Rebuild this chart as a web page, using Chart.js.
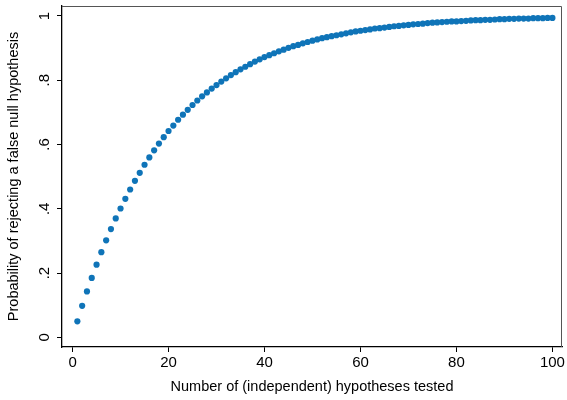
<!DOCTYPE html>
<html>
<head>
<meta charset="utf-8">
<script src="https://cdn.jsdelivr.net/npm/chart.js@4"></script>
<style>
  html, body { margin: 0; padding: 0; background: #fff; }
  #wrap { width: 567px; height: 400px; }
</style>
</head>
<body>
<div id="wrap"><canvas id="chart" width="567" height="400"></canvas></div>
<script>
// number of hypotheses tested
var nTests = [];
for (var i = 1; i <= 100; i++) nTests.push(i);

// probability of rejecting a false null
var probReject = [
  0.050, 0.098, 0.143, 0.185, 0.226, 0.265, 0.302, 0.337, 0.370, 0.401,
  0.431, 0.460, 0.487, 0.512, 0.537, 0.560, 0.582, 0.603, 0.623, 0.642,
  0.659, 0.677, 0.693, 0.708, 0.723, 0.737, 0.750, 0.762, 0.774, 0.785,
  0.796, 0.806, 0.816, 0.825, 0.834, 0.842, 0.850, 0.858, 0.865, 0.872,
  0.878, 0.884, 0.890, 0.895, 0.901, 0.906, 0.910, 0.915, 0.919, 0.923,
  0.927, 0.931, 0.934, 0.937, 0.940, 0.943, 0.946, 0.949, 0.952, 0.954,
  0.956, 0.958, 0.961, 0.962, 0.964, 0.966, 0.968, 0.969, 0.971, 0.972,
  0.974, 0.975, 0.976, 0.978, 0.979, 0.980, 0.981, 0.982, 0.983, 0.983,
  0.984, 0.985, 0.986, 0.987, 0.987, 0.988, 0.988, 0.989, 0.990, 0.990,
  0.991, 0.991, 0.992, 0.992, 0.992, 0.993, 0.993, 0.993, 0.994, 0.994
];

var xTicks = [0, 20, 40, 60, 80, 100];
var yTicks = [0, 0.2, 0.4, 0.6, 0.8, 1];
var yTickLabels = ['0', '.2', '.4', '.6', '.8', '1'];

var points = [];
for (var i = 0; i < nTests.length; i++) {
  points.push({ x: nTests[i], y: probReject[i] });
}

var FONT = "'Liberation Sans', Arial, sans-serif";

// 위/오른쪽 테두리 + 세로로 돌린 y축 눈금 글자
var framePlugin = {
  id: 'frame',
  afterDraw: function(chart) {
    var ctx = chart.ctx;
    var a = chart.chartArea;
    ctx.save();
    ctx.strokeStyle = '#555';
    ctx.lineWidth = 1;
    ctx.beginPath();
    ctx.moveTo(a.left, a.top + 0.5);
    ctx.lineTo(a.right - 0.5, a.top + 0.5);
    ctx.lineTo(a.right - 0.5, a.bottom);
    ctx.stroke();

    var ys = chart.scales.y;
    ctx.fillStyle = '#000';
    ctx.font = '15px ' + FONT;
    ctx.textAlign = 'center';
    ctx.textBaseline = 'middle';
    for (var i = 0; i < yTicks.length; i++) {
      var py = ys.getPixelForValue(yTicks[i]);
      ctx.save();
      ctx.translate(45, py);
      ctx.rotate(-Math.PI / 2);
      ctx.fillText(yTickLabels[i], 0, 0);
      ctx.restore();
    }
    ctx.restore();
  }
};

new Chart(document.getElementById('chart'), {
  type: 'scatter',
  data: {
    datasets: [{
      data: points,
      backgroundColor: '#0f74b8',
      borderWidth: 0,
      pointRadius: 3.1,
      pointHoverRadius: 3.1
    }]
  },
  options: {
    responsive: false,
    animation: false,
    events: [],
    layout: { padding: { top: 6, right: 4, bottom: 0, left: 0 } },
    plugins: { legend: { display: false }, tooltip: { enabled: false } },
    scales: {
      x: {
        type: 'linear',
        min: -2.2,
        max: 102,
        afterBuildTicks: function(scale) {
          scale.ticks = xTicks.map(function(v) { return { value: v }; });
        },
        afterFit: function(scale) { scale.height = 53; },
        grid: { drawOnChartArea: false, drawTicks: true, tickLength: 5, color: '#000' },
        border: { display: true, color: '#000', width: 1.3 },
        ticks: { color: '#000', font: { family: FONT, size: 15 }, padding: 2, maxRotation: 0 },
        title: {
          display: true,
          text: 'Number of (independent) hypotheses tested',
          color: '#000',
          font: { family: FONT, size: 14.5 },
          padding: { top: 4, bottom: 4 }
        }
      },
      y: {
        type: 'linear',
        min: -0.03,
        max: 1.031,
        afterBuildTicks: function(scale) {
          scale.ticks = yTicks.map(function(v) { return { value: v }; });
        },
        afterFit: function(scale) { scale.width = 62; },
        grid: { drawOnChartArea: false, drawTicks: true, tickLength: 5, color: '#000' },
        border: { display: true, color: '#000', width: 1.3 },
        ticks: { display: false },
        title: {
          display: true,
          text: 'Probability of rejecting a false null hypothesis',
          color: '#000',
          font: { family: FONT, size: 14.5 },
          padding: { top: 5, bottom: 5 }
        }
      }
    }
  },
  plugins: [framePlugin]
});
</script>
</body>
</html>
